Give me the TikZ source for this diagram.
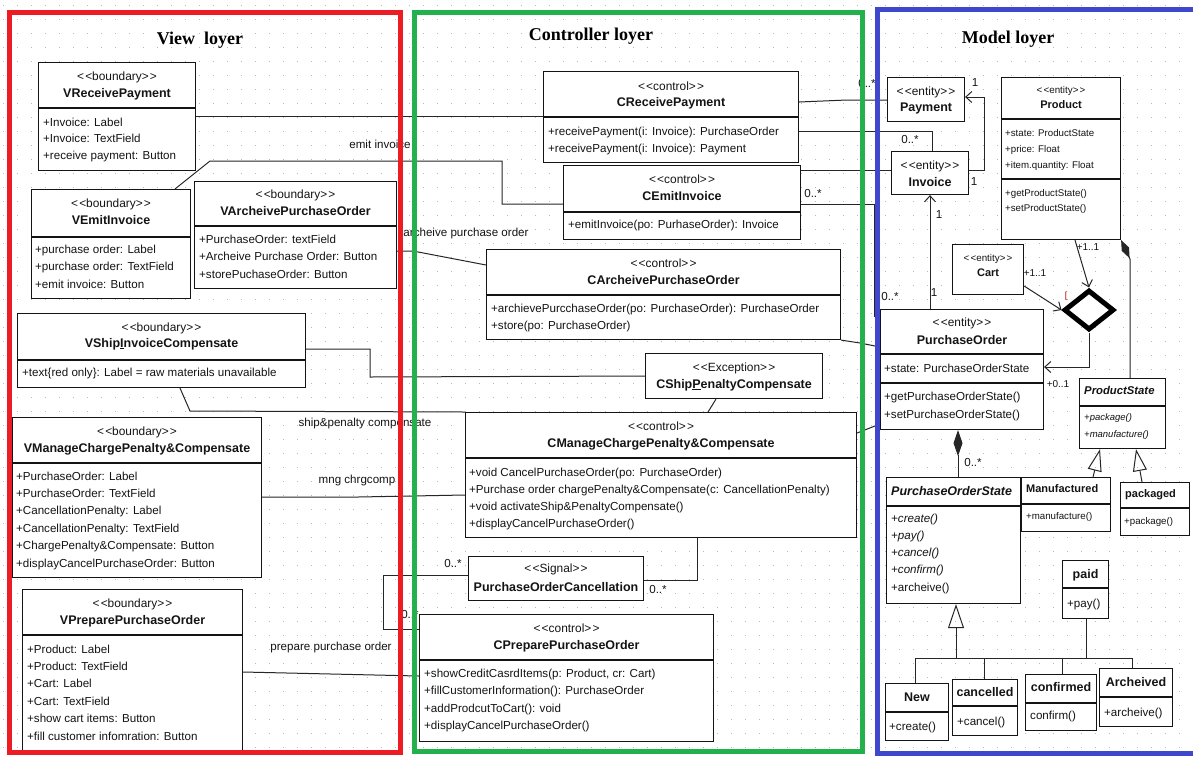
\documentclass[tikz,border=0pt]{standalone}
\usepackage{fontspec}
\setmainfont{Liberation Sans}
\newfontfamily\titlefont{Liberation Serif}
\usetikzlibrary{arrows.meta,shapes.geometric,calc}
\definecolor{framered}{HTML}{ED1C24}
\definecolor{framegreen}{HTML}{22B14C}
\definecolor{frameblue}{HTML}{3F48CC}
\definecolor{ink}{HTML}{141414}

% stereotype text with separated chevrons
\newcommand\stt[1]{<\kern1.2pt<#1>\kern1.2pt>}
% class box: name, x1, y1, x2, y2 (pixel-like units, y downwards)
\newcommand\umlbox[5]{%
  \pgfmathsetmacro\bw{#4-#2}\pgfmathsetmacro\bh{#5-#3}%
  \node[box, minimum width=\bw pt, minimum height=\bh pt] (#1) at (#2,#3) {};}
% compartment separator at height y
\newcommand\umlsep[2]{\draw[sepl] (#1.west |- 0,#2) -- (#1.east |- 0,#2);}
% centred text in box #1: node name, style, y, text
\newcommand\umlc[5]{%
  \pgfmathsetmacro\yb{#4+4}%
  \node[#3, anchor=base] (#2) at (#1.north |- 0,\yb) {#5};}
% left aligned single line: node name, style, x, y, text
\newcommand\umll[5]{%
  \pgfmathsetmacro\yb{#4+4}%
  \node[#2, anchor=base west] (#1) at (#3,\yb) {#5};}
% list of left aligned lines: prefix, style, x, y0, dy, items
\newcommand\umlrows[6]{%
  \foreach \t [count=\i from 0] in {#6} {%
    \pgfmathsetmacro\yb{#4+\i*(#5)+4}%
    \node[#2, anchor=base west] (#1-\i) at (#3,\yb) {\t};}}

\begin{document}
\begin{tikzpicture}[x=1pt, y=-1pt,
  box/.style={draw=ink, line width=1.1pt, fill=white, inner sep=0pt, anchor=north west},
  sepl/.style={draw=ink, line width=1.1pt},
  stereo/.style={font=\fontsize{11.9}{13}\selectfont, text=ink, inner sep=0pt},
  sstereo/.style={font=\fontsize{9.8}{11}\selectfont, text=ink, inner sep=0pt},
  cname/.style={font=\fontsize{12.5}{14}\selectfont\bfseries, text=ink, inner sep=0pt},
  sname/.style={font=\fontsize{11}{13}\selectfont\bfseries, text=ink, inner sep=0pt},
  iname/.style={font=\fontsize{12.5}{14}\selectfont\bfseries\itshape, text=ink, inner sep=0pt},
  attr/.style={font=\fontsize{11.6}{13}\selectfont, text=ink, inner sep=0pt},
  iattr/.style={font=\fontsize{11.6}{13}\selectfont\itshape, text=ink, inner sep=0pt},
  sattr/.style={font=\fontsize{9.7}{11}\selectfont, text=ink, inner sep=0pt},
  siattr/.style={font=\fontsize{9.5}{11}\selectfont\itshape, text=ink, inner sep=0pt},
  link/.style={draw=black!85, line width=1pt},
  lbl/.style={font=\fontsize{11.6}{13}\selectfont, text=ink, inner sep=0pt},
  slbl/.style={font=\fontsize{10}{12}\selectfont, text=ink, inner sep=0pt},
  title/.style={font=\titlefont\bfseries\fontsize{18}{20}\selectfont, text=black, inner sep=0pt},
  openarrow/.style={-{Straight Barb[length=6pt,width=11pt]}},
  gridrow/.style={draw=black!28, line width=1pt, dash pattern=on 1pt off 13pt, dash phase=-3pt}
]
\useasboundingbox (0,0) rectangle (1193,756);
\fill[white] (0,0) rectangle (1193,756);

% dotted drawing grid
\foreach \k in {0,...,53} \draw[gridrow] (0,{5+14*\k}) -- (1193,{5+14*\k});

% layer titles
\node[title] (t-view) at (200,40) {View\ \ loyer};
\node[title] (t-ctrl) at (591,36) {Controller loyer};
\node[title] (t-model) at (1008,39) {Model loyer};

% ---------------- view layer ----------------
\umlbox{vrp}{38}{62}{195}{170}
\umlsep{vrp}{108}
\umlc{vrp}{vrp-s}{stereo}{76}{\stt{boundary}}
\umlc{vrp}{vrp-n}{cname}{93}{VReceivePayment}
\umlrows{vrp-a}{attr}{43}{122}{16.5}{+Invoice: Label, +Invoice: TextField, +receive payment: Button}

\umlbox{vei}{31}{189}{190}{298}
\umlsep{vei}{237}
\umlc{vei}{vei-s}{stereo}{203}{\stt{boundary}}
\umlc{vei}{vei-n}{cname}{220}{VEmitInvoice}
\umlrows{vei-a}{attr}{35}{249}{17.5}{+purchase order: Label, +purchase order: TextField, +emit invoice: Button}

\umlbox{vap}{194}{181}{396}{288}
\umlsep{vap}{226}
\umlc{vap}{vap-s}{stereo}{194}{\stt{boundary}}
\umlc{vap}{vap-n}{cname}{211}{VArcheivePurchaseOrder}
\umlrows{vap-a}{attr}{199}{239}{17.5}{+PurchaseOrder: textField, +Archeive Purchase Order: Button, +storePuchaseOrder: Button}

\umlbox{vsi}{17}{313}{305}{387}
\umlsep{vsi}{360}
\umlc{vsi}{vsi-s}{stereo}{327}{\stt{boundary}}
\umlc{vsi}{vsi-n}{cname}{343}{VShip\underline{I}nvoiceCompensate}
\umll{vsi-a}{attr}{22}{372}{+text\{red only\}: Label = raw materials unavailable}

\umlbox{vmc}{12}{417}{261}{577}
\umlsep{vmc}{463}
\umlc{vmc}{vmc-s}{stereo}{431}{\stt{boundary}}
\umlc{vmc}{vmc-n}{cname}{448}{VManageChargePenalty\&Compensate}
\umlrows{vmc-a}{attr}{16}{476}{17.4}{+PurchaseOrder: Label, +PurchaseOrder: TextField, +CancellationPenalty: Label, +CancellationPenalty: TextField, +ChargePenalty\&Compensate: Button, +displayCancelPurchaseOrder: Button}

\umlbox{vpp}{22}{589}{242}{751}
\umlsep{vpp}{635}
\umlc{vpp}{vpp-s}{stereo}{603}{\stt{boundary}}
\umlc{vpp}{vpp-n}{cname}{620}{VPreparePurchaseOrder}
\umlrows{vpp-a}{attr}{27}{649}{17.4}{+Product: Label, +Product: TextField, +Cart: Label, +Cart: TextField, +show cart items: Button, +fill customer infomration: Button}

% ---------------- controller layer ----------------
\umlbox{crp}{543}{71}{798}{162}
\umlsep{crp}{117}
\umlc{crp}{crp-s}{stereo}{86}{\stt{control}}
\umlc{crp}{crp-n}{cname}{102}{CReceivePayment}
\umlrows{crp-o}{attr}{548}{131}{17}{+receivePayment(i: Invoice): PurchaseOrder, +receivePayment(i: Invoice): Payment}

\umlbox{cei}{563}{165}{800}{239}
\umlsep{cei}{212}
\umlc{cei}{cei-s}{stereo}{179}{\stt{control}}
\umlc{cei}{cei-n}{cname}{196}{CEmitInvoice}
\umll{cei-o}{attr}{568}{224}{+emitInvoice(po: PurhaseOrder): Invoice}

\umlbox{cap}{486}{249}{840}{339}
\umlsep{cap}{295}
\umlc{cap}{cap-s}{stereo}{263}{\stt{control}}
\umlc{cap}{cap-n}{cname}{280}{CArcheivePurchaseOrder}
\umlrows{cap-o}{attr}{491}{308}{17.5}{+archievePurcchaseOrder(po: PurchaseOrder): PurchaseOrder, +store(po: PurchaseOrder)}

\umlbox{csp}{645}{353}{822}{398}
\umlc{csp}{csp-s}{stereo}{367}{\stt{Exception}}
\umlc{csp}{csp-n}{cname}{384}{CShip\underline{P}enaltyCompensate}

\umlbox{cmc}{465}{412}{856}{537}
\umlsep{cmc}{458}
\umlc{cmc}{cmc-s}{stereo}{426}{\stt{control}}
\umlc{cmc}{cmc-n}{cname}{443}{CManageChargePenalty\&Compensate}
\umlrows{cmc-o}{attr}{469}{472}{17.2}{+void CancelPurchaseOrder(po: PurchaseOrder), +Purchase order chargePenalty\&Compensate(c: CancellationPenalty), +void activateShip\&PenaltyCompensate(), +displayCancelPurchaseOrder()}

\umlbox{poc}{468}{556}{643}{600}
\umlc{poc}{poc-s}{stereo}{568}{\stt{Signal}}
\umlc{poc}{poc-n}{cname}{587}{PurchaseOrderCancellation}

\umlbox{cpp}{419}{614}{713}{741}
\umlsep{cpp}{660}
\umlc{cpp}{cpp-s}{stereo}{628}{\stt{control}}
\umlc{cpp}{cpp-n}{cname}{645}{CPreparePurchaseOrder}
\umlrows{cpp-o}{attr}{424}{673}{17.6}{{+showCreditCasrdItems(p: Product, cr: Cart)}, +fillCustomerInformation(): PurchaseOrder, +addProdcutToCart(): void, +displayCancelPurchaseOrder()}

% ---------------- model layer ----------------
\umlbox{pay}{887}{77}{964}{121}
\umlc{pay}{pay-s}{stereo}{91}{\stt{entity}}
\umlc{pay}{pay-n}{cname}{107}{Payment}

\umlbox{inv}{891}{151}{968}{194}
\umlc{inv}{inv-s}{stereo}{165}{\stt{entity}}
\umlc{inv}{inv-n}{cname}{182}{Invoice}

\umlbox{prd}{1001}{77}{1120}{239}
\umlsep{prd}{119}
\umlsep{prd}{179}
\umlc{prd}{prd-s}{sstereo}{89}{\stt{entity}}
\umlc{prd}{prd-n}{sname}{104}{Product}
\umlrows{prd-a}{sattr}{1005}{132}{16}{+state: ProductState, +price: Float, +item.quantity: Float}
\umlrows{prd-o}{sattr}{1005}{192}{15.5}{+getProductState(), +setProductState()}

\umlbox{crt}{952}{244}{1023}{294}
\umlc{crt}{crt-s}{sstereo}{257}{\stt{entity}}
\umlc{crt}{crt-n}{sname}{272}{Cart}

\umlbox{por}{880}{309}{1043}{429}
\umlsep{por}{354}
\umlsep{por}{383}
\umlc{por}{por-s}{stereo}{322}{\stt{entity}}
\umlc{por}{por-n}{cname}{340}{PurchaseOrder}
\umll{por-a}{attr}{884}{368}{+state: PurchaseOrderState}
\umlrows{por-o}{attr}{884}{396}{18}{+getPurchaseOrderState(), +setPurchaseOrderState()}

\node[diamond, draw=black, line width=5pt, fill=white, inner sep=0pt,
      minimum width=50pt, minimum height=40pt] (dia) at (1089,310) {};
\node[text=red!75!black, font=\fontsize{9}{9}\selectfont, inner sep=0pt] (brk) at (1066,296) {[};

\umlbox{pst}{1079}{378}{1165}{448}
\umlsep{pst}{406}
\umll{pst-n}{iname}{1084}{390}{\fontsize{11.3}{13}\selectfont ProductState}
\umlrows{pst-o}{siattr}{1084}{416}{17}{+package(), +manufacture()}

\umlbox{pos}{886}{477}{1020}{603}
\umlsep{pos}{506}
\umll{pos-n}{iname}{891}{491}{PurchaseOrderState}
\umlrows{pos-o}{iattr}{891}{518}{17.3}{+create(), +pay(), +cancel(), +confirm()}
\umll{pos-a}{attr}{891}{587}{+archeive()}

\umlbox{mfd}{1021}{477}{1110}{531}
\umlsep{mfd}{504}
\umll{mfd-n}{sname}{1026}{488}{Manufactured}
\umll{mfd-o}{sattr}{1026}{515}{+manufacture()}

\umlbox{pkg}{1120}{482}{1189}{535}
\umlsep{pkg}{508}
\umll{pkg-n}{sname}{1125}{493}{packaged}
\umll{pkg-o}{sattr}{1124}{520}{+package()}

\umlbox{pid}{1062}{560}{1108}{618}
\umlsep{pid}{588}
\umlc{pid}{pid-n}{cname}{574}{paid}
\umll{pid-o}{attr}{1067}{603}{+pay()}

\umlbox{nw}{885}{683}{948}{740}
\umlsep{nw}{712}
\umlc{nw}{nw-n}{cname}{697}{New}
\umll{nw-o}{attr}{889}{726}{+create()}

\umlbox{can}{952}{679}{1017}{735}
\umlsep{can}{706}
\umlc{can}{can-n}{cname}{692}{cancelled}
\umll{can-o}{attr}{957}{721}{+cancel()}

\umlbox{cnf}{1025}{674}{1096}{730}
\umlsep{cnf}{703}
\umlc{cnf}{cnf-n}{cname}{687}{confirmed}
\umll{cnf-o}{attr}{1030}{715}{confirm()}

\umlbox{arc}{1099}{668}{1172}{726}
\umlsep{arc}{697}
\umlc{arc}{arc-n}{cname}{682}{Archeived}
\umll{arc-o}{attr}{1104}{712}{+archeive()}

% ---------------- view -> controller links ----------------
\draw[link] (vrp.east |- 0,116) -- (crp.west |- 0,116);
\draw[link] (vei.north -| 175,0) -- (210,161) -- (502,161) -- (502,204) -- (cei.west |- 0,204);
\draw[link] (vap.east |- 0,251) -- (413,251) -- (cap.west |- 0,265);
\draw[link] (vsi.east |- 0,349) -- (370,349) -- (370,377) -- (csp.west |- 0,376);
\draw[link] (vsi.south -| 180,0) -- (190,411) -- (cmc.north west);
\draw[link] (vmc.east |- 0,497) -- (358,497) -- (cmc.west |- 0,495);
\draw[link] (vpp.east |- 0,672) -- (cpp.west |- 0,676);

\node[lbl] (l-emit) at (380,144) {emit invoice};
\node[lbl] (l-arch) at (466,233) {archeive purchase order};
\node[lbl] (l-ship) at (365,423) {ship\&penalty compensate};
\node[lbl] (l-mng) at (357,480) {mng chrgcomp};
\node[lbl] (l-prep) at (331,647) {prepare purchase order};

% ---------------- controller links ----------------
\draw[link] (csp.south -| 716,0) -- (cmc.north -| 708,0);
\draw[link] (cmc.south -| 697,0) -- (697,580) -- (poc.east |- 0,580);
\draw[link] (poc.west |- 0,575) -- (383,575) -- (383,629) -- (cpp.west |- 0,629);
\node[lbl] (m-poc1) at (658,589) {0..*};
\node[lbl] (m-poc2) at (453,563) {0..*};
\node[lbl] (m-cpp) at (410,614) {0..*};

% ---------------- controller -> model links ----------------
\draw[link] (crp.east |- 0,102) -- (847,100) -- (pay.west |- 0,100);
\draw[link] (crp.east |- 0,131) -- (932,131) -- (inv.north -| 932,0);
\draw[link] (cei.east |- 0,170) -- (inv.west |- 0,170);
\draw[link] (cei.east |- 0,204) -- (874,204) -- (874,316) -- (por.west |- 0,316);
\draw[link] (cap.south east) -- (860,343) -- (por.west |- 0,347);
\draw[link] (cmc.east |- 0,433) -- (por.west |- 0,424);
\node[lbl] (m-pay) at (867,84) {0..*};
\node[lbl] (m-inv) at (910,140) {0..*};
\node[lbl] (m-cei) at (813,193) {0..*};
\node[lbl] (m-por) at (890,296) {0..*};

% ---------------- model links ----------------
\draw[link, openarrow] (inv.east |- 0,170) -- (984,170) -- (984,97) -- (pay.east |- 0,97);
\draw[link, openarrow] (por.north -| 930,0) -- (inv.south -| 930,0);
\draw[link, openarrow] (prd.south -| 1075,0) -- (dia.north);
\draw[link, openarrow] (crt.east |- 0,286) -- (dia.west);
\draw[link, openarrow] (dia.south) -- (1089,367) -- (por.east |- 0,367);
\draw[link, -{Diamond[length=20pt,width=8pt]}] (pst.north -| 1130,0) -- (1130,259) -- (prd.south east);
\draw[link, -{Diamond[length=26pt,width=9pt]}] (pos.north -| 958,0) -- (por.south -| 958,0);
\node[lbl] (m-pay1) at (975,83) {1};
\node[lbl] (m-inv1) at (974,182) {1};
\node[lbl] (m-inv2) at (939,215) {1};
\node[lbl] (m-por1) at (934,293) {1};
\node[slbl] (m-prd) at (1088,247) {+1..1};
\node[slbl] (m-crt) at (1035,273) {+1..1};
\node[slbl] (m-dia) at (1058,384) {+0..1};
\node[lbl] (m-pos) at (973,462) {0..*};

% state generalisations
\draw[link] (nw.north -| 915,0) -- (915,658) -- (1132,658) -- (arc.north -| 1132,0);
\draw[link] (can.north -| 984,0) -- (984,658);
\draw[link] (cnf.north -| 1062,0) -- (1062,658);
\draw[link] (pid.south -| 1086,0) -- (1086,658);
\draw[link, -{Triangle[open,length=24pt,width=16pt]}] (956,658) -- (pos.south -| 956,0);
\draw[link, -{Triangle[open,length=22pt,width=14pt]}] (mfd.north -| 1093,0) -- (pst.south -| 1100,0);
\draw[link, -{Triangle[open,length=22pt,width=14pt]}] (pkg.north -| 1142,0) -- (pst.south -| 1136,0);

% ---------------- layer frames ----------------
\draw[framered, line width=5pt] (9.5,12) rectangle (400,752);
\draw[framegreen, line width=5pt] (414.5,12) rectangle (862,751);
\draw[frameblue, line width=5pt] (877.5,9.5) rectangle (1205,753.5);
\end{tikzpicture}
\end{document}
